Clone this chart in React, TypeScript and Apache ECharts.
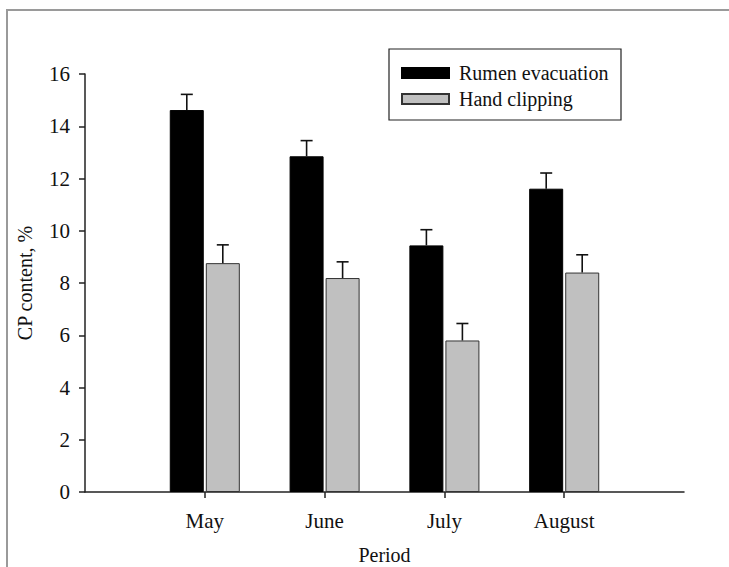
import React, { useEffect, useRef } from "react";
import * as echarts from "echarts";

const categories = ["", "May", "June", "July", "August", ""];
const rumenValues = [14.62, 12.85, 9.44, 11.61];
const rumenErrors = [0.6, 0.6, 0.6, 0.6];
const handValues = [8.76, 8.19, 5.8, 8.4];
const handErrors = [0.7, 0.62, 0.65, 0.68];
const yTicks = { min: 0, max: 16, interval: 2 };

const FONT = "'Liberation Serif', 'Times New Roman', serif";

export default function App() {
  const ref = useRef<HTMLDivElement>(null);
  useEffect(() => {
    if (!ref.current) return;
    const chart = echarts.init(ref.current, null, { renderer: "svg" });
    const errData = (vals: number[], errs: number[]) =>
      vals.map((v, i) => [i + 1, v, errs[i]]);
    const errSeries = (name: string, vals: number[], errs: number[], offset: number) => ({
      type: "custom",
      name: name + " error",
      silent: true,
      z: 5,
      encode: { x: 0, y: 1 },
      data: errData(vals, errs),
      renderItem: (params: any, api: any) => {
        const c = api.value(0);
        const v = api.value(1);
        const e = api.value(2);
        const p0 = api.coord([c, v]);
        const p1 = api.coord([c, v + e]);
        const x = p0[0] + offset;
        const style = { stroke: "#111", lineWidth: 1.6 };
        return {
          type: "group",
          children: [
            { type: "line", shape: { x1: x, y1: p0[1], x2: x, y2: p1[1] }, style },
            { type: "line", shape: { x1: x - 6, y1: p1[1], x2: x + 6, y2: p1[1] }, style },
          ],
        };
      },
    });
    chart.setOption({
      animation: false,
      backgroundColor: "#fff",
      textStyle: { fontFamily: FONT },
      grid: { left: 85, right: 45, top: 74, bottom: 75, containLabel: false, outerBoundsMode: "none" },
      graphic: [
        {
          type: "line",
          shape: { x1: 7, y1: 9, x2: 7, y2: 567 },
          style: { stroke: "#9a9a9a", lineWidth: 2 },
          silent: true,
        },
        {
          type: "line",
          shape: { x1: 6, y1: 10, x2: 729, y2: 10 },
          style: { stroke: "#9a9a9a", lineWidth: 2 },
          silent: true,
        },
        {
          type: "rect",
          shape: { x: 389, y: 49, width: 232, height: 71 },
          style: { fill: "#fff", stroke: "#222", lineWidth: 1.2 },
          z: 1,
          silent: true,
        },
      ],
      legend: {
        orient: "vertical",
        left: 401,
        top: 63,
        padding: 0,
        itemGap: 6,
        itemWidth: 47,
        itemHeight: 10,
        icon: "rect",
        z: 10,
        textStyle: { fontFamily: FONT, fontSize: 20, color: "#111", padding: [0, 0, 0, 5] },
        data: ["Rumen evacuation", "Hand clipping"],
      },
      xAxis: {
        type: "category",
        data: categories,
        boundaryGap: false,
        name: "Period",
        nameLocation: "middle",
        nameGap: 53,
        nameTextStyle: { fontFamily: FONT, fontSize: 20, color: "#111" },
        axisLine: { lineStyle: { color: "#222", width: 1.5 } },
        axisTick: {
          show: true,
          length: 6,
          interval: (i: number) => i > 0 && i < categories.length - 1,
          lineStyle: { color: "#222", width: 1.5 },
        },
        axisLabel: { interval: 0, margin: 18, fontFamily: FONT, fontSize: 21, color: "#111" },
        splitLine: { show: false },
      },
      yAxis: {
        type: "value",
        min: yTicks.min,
        max: yTicks.max,
        interval: yTicks.interval,
        name: "CP content, %",
        nameLocation: "middle",
        nameGap: 50,
        nameTextStyle: { fontFamily: FONT, fontSize: 20, color: "#111" },
        axisLine: { show: true, lineStyle: { color: "#222", width: 1.5 } },
        axisTick: { show: true, length: 6, lineStyle: { color: "#222", width: 1.5 } },
        axisLabel: { margin: 15, fontFamily: FONT, fontSize: 21, color: "#111" },
        splitLine: { show: false },
      },
      series: [
        {
          type: "bar",
          name: "Rumen evacuation",
          barWidth: 34,
          barGap: "6%",
          data: rumenValues.map((v, i) => [i + 1, v]),
          itemStyle: { color: "#000", borderColor: "#000", borderWidth: 1 },
        },
        {
          type: "bar",
          name: "Hand clipping",
          barWidth: 34,
          barGap: "6%",
          data: handValues.map((v, i) => [i + 1, v]),
          itemStyle: { color: "#c0c0c0", borderColor: "#333", borderWidth: 1 },
        },
        errSeries("Rumen evacuation", rumenValues, rumenErrors, -18),
        errSeries("Hand clipping", handValues, handErrors, 18),
      ],
    });
    return () => chart.dispose();
  }, []);
  return <div ref={ref} style={{ width: 729, height: 567, position: "absolute", left: 0, top: 0 }} />;
}
